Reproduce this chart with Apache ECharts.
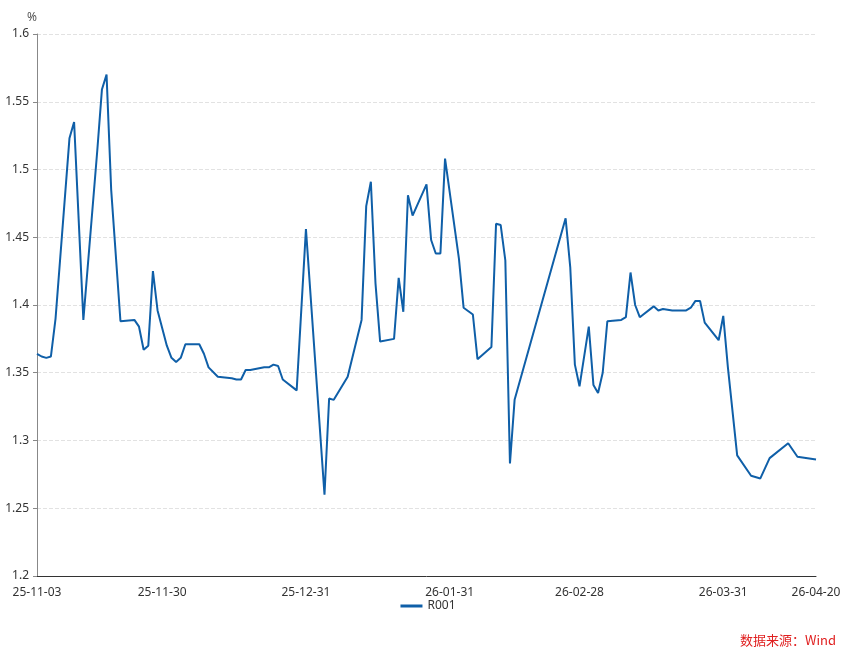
<!DOCTYPE html>
<html>
<head>
<meta charset="utf-8">
<script src="https://cdn.jsdelivr.net/npm/echarts@6/dist/echarts.min.js"></script>
<style>html,body{margin:0;padding:0;background:#fff}#main{width:856px;height:657px}</style>
</head>
<body>
<div id="main"></div>
<script>
// day offsets from 2025-11-03 and the R001 value on that day
var dayOffsets = [0,1,2,3,4,7,8,10,13,14,15,16,18,21,22,23,24,25,26,28,29,30,31,32,35,36,37,39,42,43,44,45,46,49,50,51,52,53,56,58,
  62,63,64,67,70,71,72,73,74,77,78,79,80,81,84,85,86,87,88,91,92,94,95,98,99,100,101,102,103,114,115,116,117,
  119,120,121,122,123,126,127,128,129,130,133,134,135,137,140,141,142,143,144,147,148,149,151,154,156,158,162,163,164,168];
var r001 = [1.364,1.362,1.361,1.362,1.390,1.523,1.535,1.389,1.514,1.559,1.570,1.485,1.388,1.389,1.384,1.367,1.370,1.425,1.396,1.370,1.361,1.358,1.361,1.371,1.371,1.364,1.354,1.347,1.346,1.345,1.345,1.352,1.352,1.354,1.354,1.356,1.355,1.345,1.337,1.456,
  1.260,1.331,1.330,1.347,1.389,1.473,1.491,1.416,1.373,1.375,1.420,1.395,1.481,1.466,1.489,1.448,1.438,1.438,1.508,1.434,1.398,1.393,1.360,1.369,1.460,1.459,1.433,1.283,1.330,1.464,1.428,1.356,1.340,
  1.384,1.341,1.335,1.350,1.388,1.389,1.391,1.424,1.400,1.391,1.399,1.396,1.397,1.396,1.396,1.398,1.403,1.403,1.387,1.374,1.392,1.354,1.289,1.274,1.272,1.287,1.298,1.293,1.288,1.286];
var shownLabels = ['25-11-03','25-11-30','25-12-31','26-01-31','26-02-28','26-03-31','26-04-20'];
var totalDays = 169;

function pad(n) { return n < 10 ? '0' + n : '' + n; }
var categories = [];
var seriesData = [];
var start = new Date(2025, 10, 3);
for (var i = 0; i < totalDays; i++) {
  var d = new Date(start.getFullYear(), start.getMonth(), start.getDate() + i);
  categories.push(pad(d.getFullYear() % 100) + '-' + pad(d.getMonth() + 1) + '-' + pad(d.getDate()));
  seriesData.push(null);
}
for (var k = 0; k < dayOffsets.length; k++) seriesData[dayOffsets[k]] = r001[k];

var chart = echarts.init(document.getElementById('main'));
var option = {
  animation: false,
  textStyle: { fontFamily: 'Noto Sans, Noto Sans CJK SC, sans-serif' },
  grid: { left: 37, right: 40, top: 34, bottom: 81 },
  legend: {
    data: [{ name: 'R001', icon: 'rect' }],
    bottom: 40,
    left: 'center',
    itemWidth: 22,
    itemHeight: 3,
    textStyle: { color: '#333', fontSize: 12 }
  },
  xAxis: {
    type: 'category',
    boundaryGap: false,
    data: categories,
    axisLine: { lineStyle: { color: '#333' } },
    axisTick: { show: false },
    axisLabel: {
      color: '#333',
      fontSize: 12,
      margin: 11,
      interval: function (idx, val) { return shownLabels.indexOf(val) >= 0; }
    }
  },
  yAxis: {
    type: 'value',
    name: '%',
    nameGap: 10,
    nameTextStyle: { color: '#555', fontSize: 12, align: 'right' },
    min: 1.2,
    max: 1.6,
    interval: 0.05,
    axisLine: { show: true, lineStyle: { color: '#888' } },
    axisTick: { show: true, length: 4, lineStyle: { color: '#888' } },
    axisLabel: { color: '#333', fontSize: 12 },
    splitLine: { lineStyle: { type: 'dashed', color: '#e2e2e2' } }
  },
  series: [{
    name: 'R001',
    type: 'line',
    data: seriesData,
    connectNulls: true,
    showSymbol: false,
    symbol: 'none',
    lineStyle: { color: '#0f5fa8', width: 2 },
    itemStyle: { color: '#0f5fa8' }
  }],
  graphic: [{
    type: 'text',
    right: 20,
    bottom: 10,
    style: { text: '数据来源：Wind', fill: '#e02020', fontSize: 13, fontFamily: 'Noto Sans CJK SC' }
  }]
};
chart.setOption(option);
</script>
</body>
</html>
